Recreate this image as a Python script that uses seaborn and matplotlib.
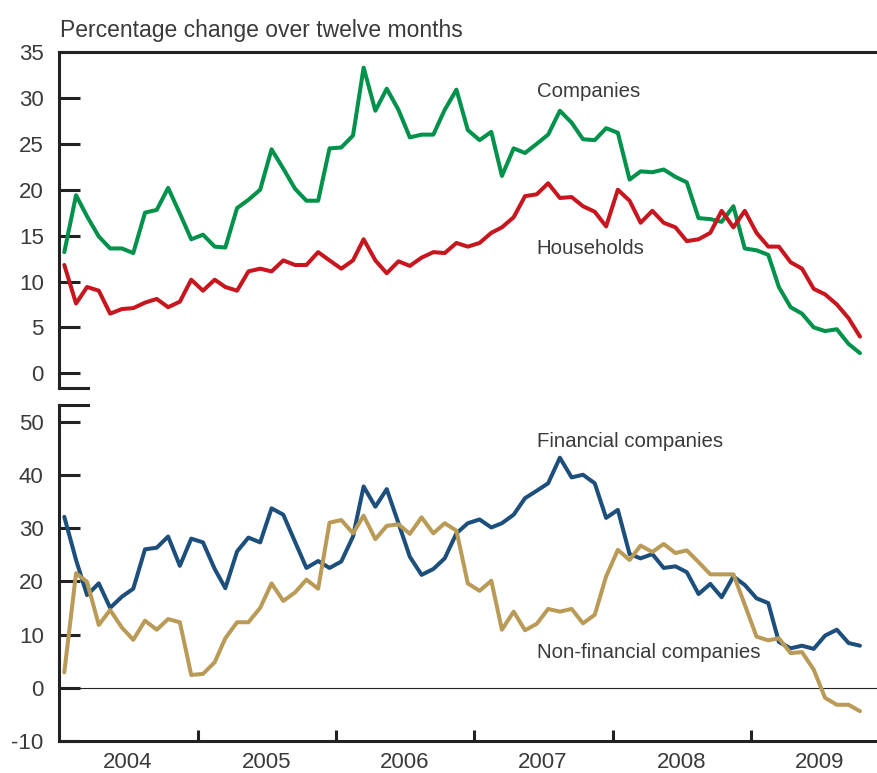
import matplotlib
matplotlib.use('Agg')
import pandas as pd
import numpy as np
import matplotlib.pyplot as plt
import matplotlib.dates as mdates
import seaborn as sns

sns.set_style("white")
plt.rcParams['font.family'] = ['Liberation Sans', 'DejaVu Sans']
plt.rcParams['axes.unicode_minus'] = False

# monthly observations, Jan 2004 - Oct 2009 (plotted mid-month)
months = pd.date_range('2004-01-01', periods=70, freq='MS') + pd.Timedelta(days=14)

companies = [13.2, 19.4, 17.1, 14.9, 13.6, 13.6, 13.1, 17.5, 17.8, 20.2,
             17.4, 14.6, 15.1, 13.8, 13.7, 18.0, 18.9, 20.0, 24.4, 22.3,
             20.1, 18.8, 18.8, 24.5, 24.6, 25.9, 33.3, 28.6, 31.0, 28.7,
             25.7, 26.0, 26.0, 28.7, 30.9, 26.5, 25.4, 26.3, 21.5, 24.5,
             24.0, 25.0, 26.0, 28.6, 27.3, 25.5, 25.4, 26.7, 26.2, 21.1,
             22.0, 21.9, 22.2, 21.4, 20.8, 16.9, 16.8, 16.5, 18.2, 13.6,
             13.4, 12.9, 9.4, 7.2, 6.5, 5.0, 4.6, 4.8, 3.2, 2.2]
households = [11.8, 7.6, 9.4, 9.0, 6.5, 7.0, 7.1, 7.7, 8.1, 7.2,
              7.8, 10.2, 9.0, 10.2, 9.4, 9.0, 11.1, 11.4, 11.1, 12.3,
              11.8, 11.8, 13.2, 12.3, 11.4, 12.3, 14.6, 12.3, 10.9, 12.2,
              11.7, 12.6, 13.2, 13.1, 14.2, 13.8, 14.2, 15.3, 15.9, 17.0,
              19.3, 19.5, 20.7, 19.1, 19.2, 18.2, 17.6, 16.0, 20.0, 18.8,
              16.4, 17.7, 16.4, 15.9, 14.4, 14.6, 15.3, 17.7, 15.9, 17.7,
              15.3, 13.8, 13.8, 12.1, 11.4, 9.2, 8.6, 7.5, 6.0, 4.0]
financial = [32.1, 24.0, 17.4, 19.6, 15.0, 17.1, 18.6, 26.0, 26.3, 28.4,
             22.9, 28.0, 27.3, 22.3, 18.7, 25.6, 28.2, 27.3, 33.7, 32.5,
             27.4, 22.5, 23.8, 22.5, 23.7, 28.4, 37.8, 34.0, 37.3, 30.9,
             24.6, 21.2, 22.3, 24.3, 29.0, 30.9, 31.6, 30.1, 30.9, 32.5,
             35.6, 37.0, 38.4, 43.2, 39.5, 40.0, 38.4, 31.9, 33.4, 25.1,
             24.3, 25.1, 22.5, 22.8, 21.7, 17.6, 19.5, 17.0, 20.9, 19.3,
             16.8, 15.9, 8.6, 7.4, 7.9, 7.3, 9.8, 10.9, 8.4, 7.9]
non_financial = [2.9, 21.5, 19.9, 11.8, 14.6, 11.3, 9.0, 12.6, 10.9, 12.9,
                 12.3, 2.4, 2.6, 4.8, 9.3, 12.3, 12.3, 15.0, 19.6, 16.3,
                 17.9, 20.3, 18.6, 31.0, 31.5, 29.0, 32.3, 27.9, 30.4, 30.7,
                 28.9, 32.0, 29.0, 30.9, 29.5, 19.6, 18.2, 20.1, 10.9, 14.3,
                 10.8, 12.0, 14.8, 14.3, 14.8, 12.1, 13.7, 20.9, 25.9, 24.0,
                 26.7, 25.5, 27.0, 25.3, 25.8, 23.6, 21.3, 21.3, 21.3, 15.6,
                 9.6, 8.9, 9.3, 6.5, 6.7, 3.4, -1.9, -3.2, -3.2, -4.4]

years = [2004, 2005, 2006, 2007, 2008, 2009]
top_ticks = list(range(0, 36, 5))
bottom_ticks = list(range(-10, 51, 10))

colors = {'Companies': '#00924A', 'Households': '#C8161E',
          'Financial companies': '#1C4F7C', 'Non-financial companies': '#B99B57'}
txt = '#3a3a3a'
ink = '#222222'

top = pd.DataFrame({'month': months, 'Companies': companies, 'Households': households})
top = top.melt('month', var_name='series', value_name='value')
bottom = pd.DataFrame({'month': months, 'Financial companies': financial,
                       'Non-financial companies': non_financial})
bottom = bottom.melt('month', var_name='series', value_name='value')

fig = plt.figure(figsize=(8.77, 7.73), dpi=100)
ax1 = fig.add_axes([59 / 877, 1 - 388 / 773, 818 / 877, 336 / 773])
ax2 = fig.add_axes([59 / 877, 1 - 741 / 773, 818 / 877, 336 / 773])

sns.lineplot(data=top, x='month', y='value', hue='series', palette=colors,
             linewidth=2.9, legend=False, ax=ax1)
sns.lineplot(data=bottom, x='month', y='value', hue='series', palette=colors,
             linewidth=2.9, legend=False, ax=ax2)

x0 = mdates.date2num(pd.Timestamp('2004-01-01'))
x1 = mdates.date2num(pd.Timestamp('2009-11-29'))
stub = x0 + (x1 - x0) * 29 / 818

for ax in (ax1, ax2):
    ax.set_xlim(x0, x1)
    ax.set_xlabel('')
    ax.set_ylabel('')
    ax.spines['right'].set_visible(False)
    for s in ('left', 'top', 'bottom'):
        ax.spines[s].set_linewidth(2.2)
        ax.spines[s].set_color(ink)
    ax.tick_params(axis='y', direction='in', length=15, width=2.2, color=ink,
                   pad=11, labelsize=16, labelcolor=txt, left=True)

ax1.set_ylim(-1.6, 35)
ax1.set_yticks(top_ticks)
ax1.spines['bottom'].set_bounds(x0, stub)
ax1.set_xticks([])

ax2.set_ylim(-10, 53.1)
ax2.set_yticks(bottom_ticks)
ax2.spines['top'].set_bounds(x0, stub)
ax2.axhline(0, color=ink, linewidth=0.8, zorder=1)

ax2.set_xticks([mdates.date2num(pd.Timestamp(f'{y}-01-01')) for y in years[1:]])
ax2.set_xticklabels([])
ax2.set_xticks([mdates.date2num(pd.Timestamp(f'{y}-07-01')) for y in years], minor=True)
ax2.set_xticklabels([str(y) for y in years], minor=True)
ax2.tick_params(axis='x', which='major', direction='in', length=8, width=2.2,
                color=ink, bottom=True)
ax2.tick_params(axis='x', which='minor', length=0, pad=8, labelsize=16,
                labelcolor=txt, bottom=True)

lab_x = pd.Timestamp('2007-06-15')
ax1.text(lab_x, 30.7, 'Companies', fontsize=14.7, color=txt, va='center')
ax1.text(lab_x, 13.6, 'Households', fontsize=14.7, color=txt, va='center')
ax2.text(lab_x, 46.3, 'Financial companies', fontsize=14.7, color=txt, va='center')
ax2.text(lab_x, 6.6, 'Non-financial companies', fontsize=14.7, color=txt, va='center')

fig.text(60 / 877, 1 - 30 / 773, 'Percentage change over twelve months',
         fontsize=16.5, color=txt, va='center')

fig.savefig('out.png', dpi=100)
